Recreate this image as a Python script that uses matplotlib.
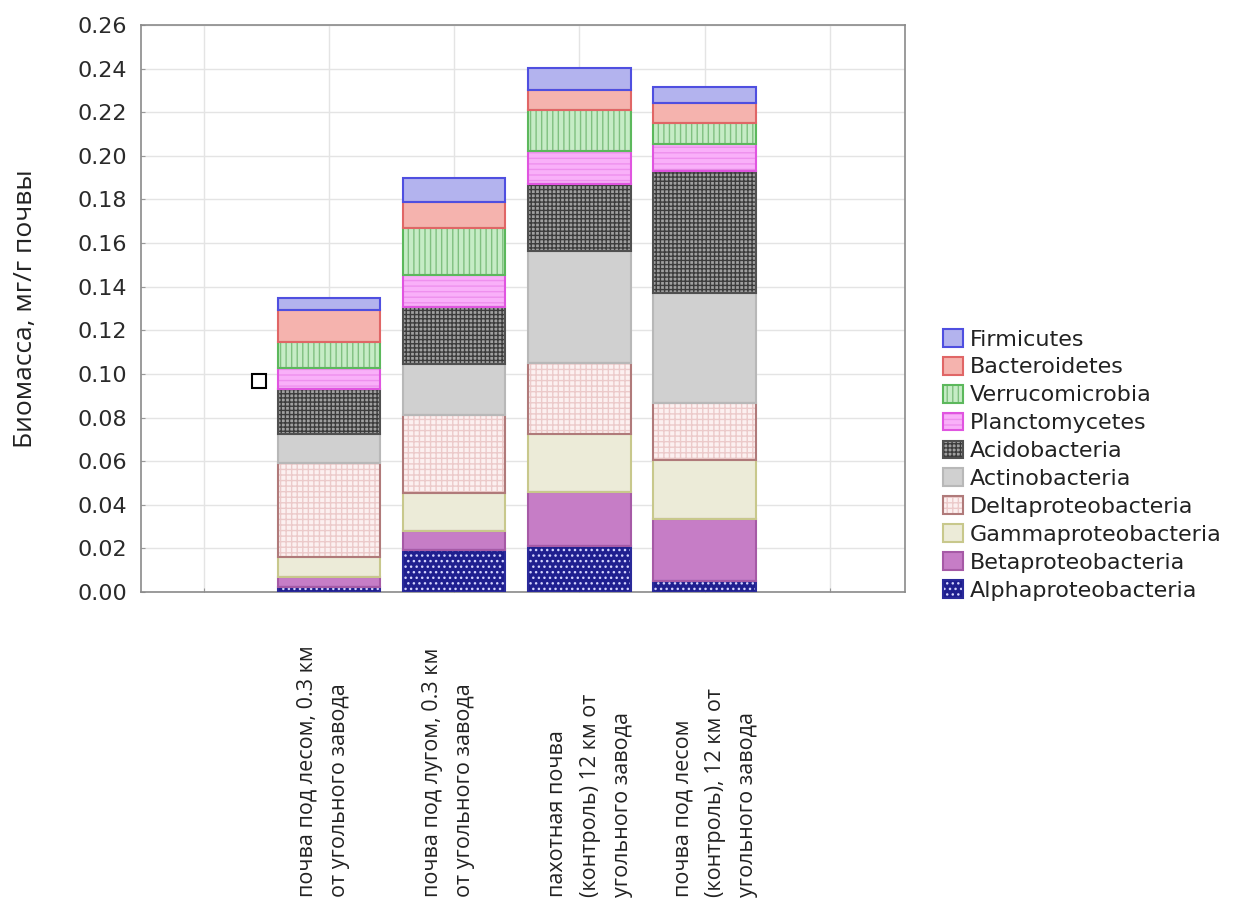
import matplotlib
matplotlib.use("Agg")
import matplotlib.pyplot as plt
from matplotlib.patches import Patch

# ============================================================
# data, bottom -> top of the stack
sites = [
    "почва под лесом, 0.3 км\nот угольного завода",
    "почва под лугом, 0.3 км\nот угольного завода",
    "пахотная почва\n(контроль) 12 км от\nугольного завода",
    "почва под лесом\n(контроль), 12 км от\nугольного завода",
]
site_pos = [1, 2, 3, 4]

taxa = ["Alphaproteobacteria", "Betaproteobacteria", "Gammaproteobacteria",
        "Deltaproteobacteria", "Actinobacteria", "Acidobacteria",
        "Planctomycetes", "Verrucomicrobia", "Bacteroidetes", "Firmicutes"]

alpha = [0.0024, 0.0193, 0.0211, 0.0050]
beta = [0.0046, 0.0088, 0.0249, 0.0285]
gamma = [0.0089, 0.0174, 0.0263, 0.0270]
delta = [0.0434, 0.0356, 0.0325, 0.0263]
actino = [0.0131, 0.0233, 0.0515, 0.0504]
acido = [0.0206, 0.0264, 0.0310, 0.0558]
plancto = [0.0095, 0.0145, 0.0148, 0.0122]
verruco = [0.0122, 0.0218, 0.0188, 0.0099]
bactero = [0.0145, 0.0115, 0.0095, 0.0089]
firmi = [0.0057, 0.0113, 0.0099, 0.0076]
values = [alpha, beta, gamma, delta, actino, acido, plancto, verruco, bactero, firmi]

# stray marker in the original
stray_x = [0.44]
stray_y = [0.0967]

# (face, hatch colour, edge, hatch)
styles = [
    ("#1f1f8f", "#d4d4ff", "#2a2a9a", "..."),
    ("#c67dc6", "#c67dc6", "#a65aa6", None),
    ("#ecebd8", "#ecebd8", "#c8c88c", None),
    ("#fcf0f0", "#eccaca", "#b07a7a", "+++"),
    ("#d0d0d0", "#d0d0d0", "#b8b8b8", None),
    ("#a0a0a0", "#3c3c3c", "#505050", "++++"),
    ("#f9b0f9", "#ee90ee", "#e055e0", "---"),
    ("#c6ecc6", "#80c080", "#5cb85c", "|||"),
    ("#f5b3ae", "#f5b3ae", "#e06666", None),
    ("#b3b3ee", "#b3b3ee", "#4f4fe0", None),
]

# ============================================================
fig = plt.figure(figsize=(12.35, 9.11), dpi=100)
ax = fig.add_axes([0.1142, 0.3502, 0.6186, 0.6224])

bar_w = 0.82
bottom = [0.0] * len(site_pos)
handles = []
for name, vals, (fc, hc, ec, h) in zip(taxa, values, styles):
    ax.bar(site_pos, vals, bar_w, bottom=bottom, facecolor=fc,
           edgecolor=hc, linewidth=0, hatch=h, zorder=2)
    ax.bar(site_pos, vals, bar_w, bottom=bottom, fill=False,
           edgecolor=ec, linewidth=1.5, zorder=3)
    bottom = [b + v for b, v in zip(bottom, vals)]
    p1 = Patch(facecolor=fc, edgecolor=hc, linewidth=0, hatch=h)
    p2 = Patch(fill=False, edgecolor=ec, linewidth=1.5)
    handles.append((p1, p2))

ax.plot(stray_x, stray_y, "s", ms=10, mfc="white", mec="black", mew=1.5, zorder=4)

ax.set_xlim(-0.5, 5.6)
ax.set_ylim(0, 0.26)
ax.set_yticks([i * 0.02 for i in range(14)])
ax.set_yticklabels([f"{i * 0.02:.2f}" for i in range(14)])
ax.set_xticks(range(6))
ax.set_xticklabels([])
ax.tick_params(axis="y", labelsize=16, labelcolor="#2a2a2a", direction="in",
               length=3, color="#999999", pad=10)
ax.tick_params(axis="x", direction="in", length=3, color="#999999")
ax.grid(True, color="#e4e4e4", linewidth=1, zorder=0)
ax.set_axisbelow(True)
for s in ax.spines.values():
    s.set_color("#8a8a8a")
    s.set_linewidth(1.2)

fig.text(0.021, 0.3502 + 0.6224 / 2, "Биомасса, мг/г почвы", rotation=90,
         ha="center", va="center", fontsize=19, family="Open Sans",
         color="#222222")

# rotated category labels, bottoms aligned, first line at a fixed offset
for x, lab in zip(site_pos, sites):
    px = ax.transData.transform((x, 0))[0] - 32
    fig.text(px / fig.bbox.width, 0.0155, lab, rotation=90, ha="left",
             va="bottom", multialignment="left", fontsize=15.5,
             family="Open Sans", color="#222222", linespacing=1.7)

leg = fig.legend(handles[::-1], taxa[::-1], loc="upper left",
                 bbox_to_anchor=(943 / 1235, 1 - 329 / 911), frameon=False,
                 fontsize=16, handlelength=0.9, handleheight=0.85,
                 handletextpad=0.3, labelspacing=0.33, borderpad=0,
                 borderaxespad=0)
for t in leg.get_texts():
    t.set_color("#222222")

fig.savefig("out.png", dpi=100)
